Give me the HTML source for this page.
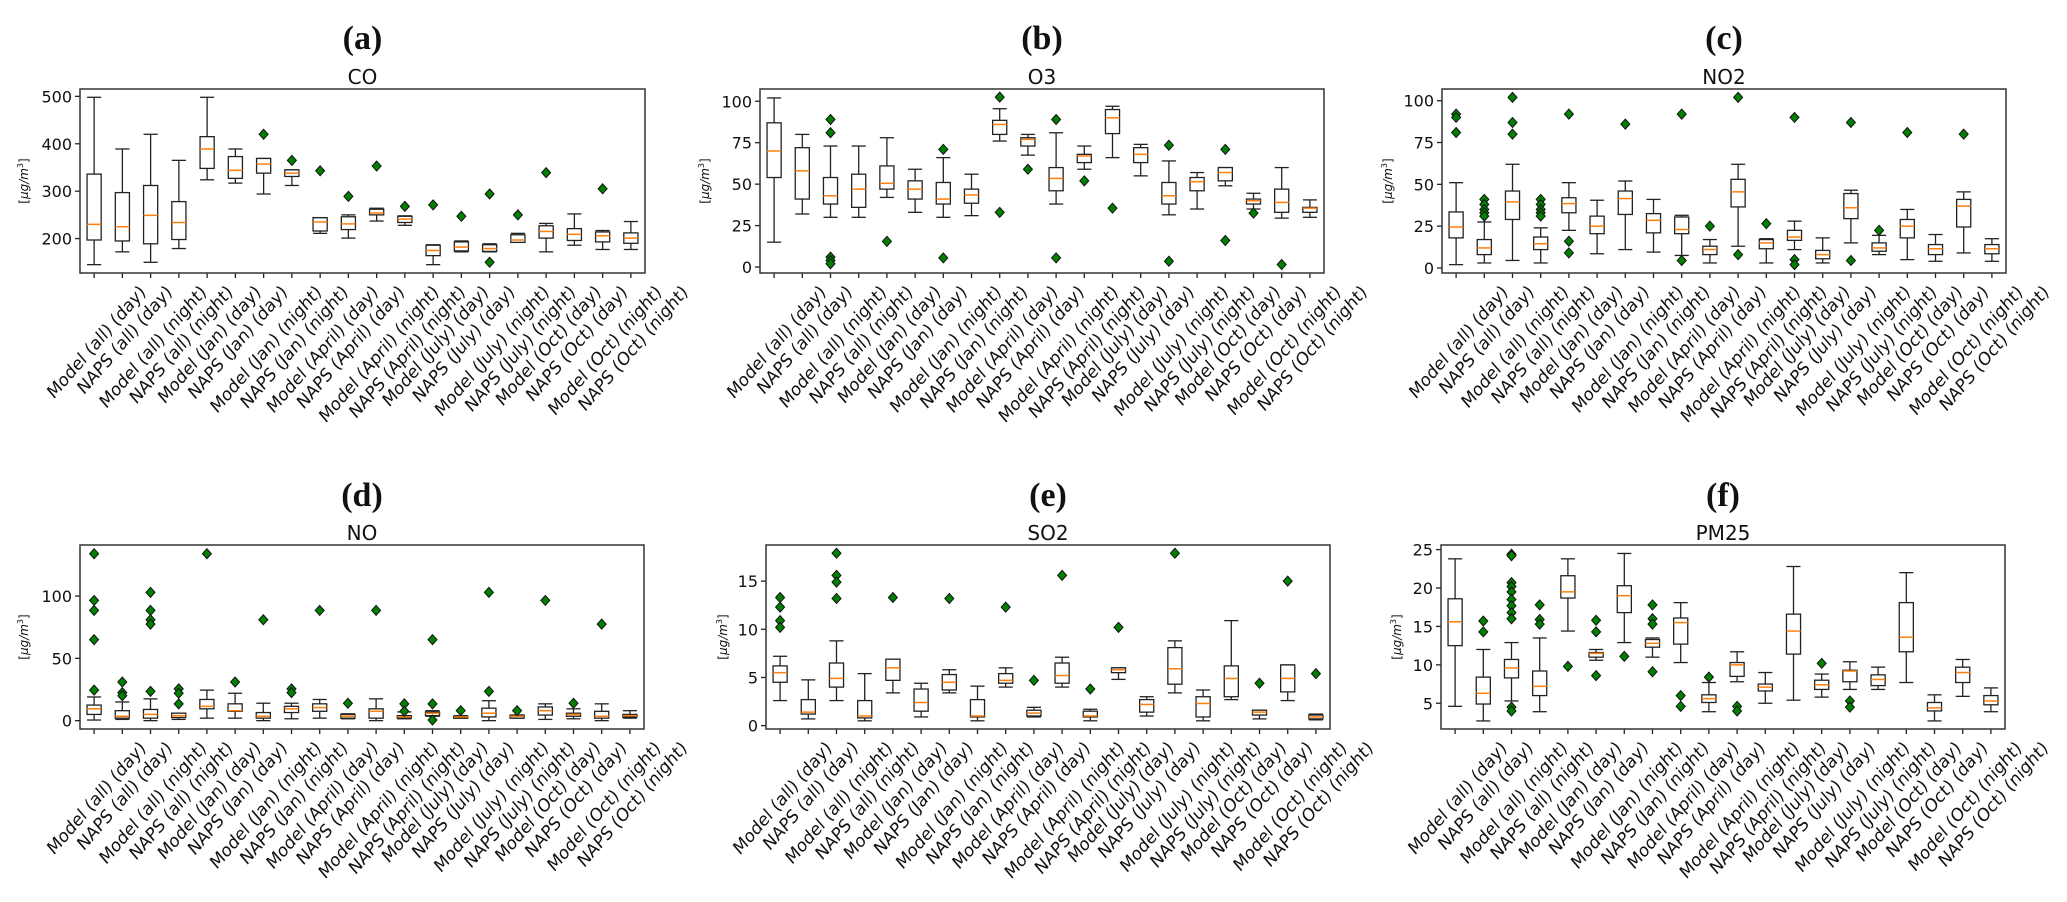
<!DOCTYPE html>
<html><head><meta charset="utf-8"><style>
html,body{margin:0;padding:0;background:#fff;}
svg{display:block;}
text{font-family:"DejaVu Sans","Liberation Sans",sans-serif;fill:#111;}
.ttl{font-family:"Liberation Serif",serif;font-weight:bold;}
</style></head><body>
<svg id="fig" width="2067" height="902" viewBox="0 0 2067 902" xmlns="http://www.w3.org/2000/svg"></svg>
<script>
const categories = ["Model (all) (day)","NAPS (all) (day)","Model (all) (night)","NAPS (all) (night)","Model (Jan) (day)","NAPS (Jan) (day)","Model (Jan) (night)","NAPS (Jan) (night)","Model (April) (day)","NAPS (April) (day)","Model (April) (night)","NAPS (April) (night)","Model (July) (day)","NAPS (July) (day)","Model (July) (night)","NAPS (July) (night)","Model (Oct) (day)","NAPS (Oct) (day)","Model (Oct) (night)","NAPS (Oct) (night)"];

const coLow = [145,172,150,179,324,317,294,312,211,201,237,228,145,172,172,192,172,186,177,177];
const coQ1 = [197,195,189,198,348,327,338,331,216,219,250,234,164,174,173,192,201,196,193,190];
const coMed = [230,225,249,234,389,344,357,338,235,231,254,241,175,182,179,197,215,209,206,201];
const coQ3 = [336,297,312,278,415,373,369,345,244,246,262,247,186,193,187,208,227,221,214,212];
const coHigh = [498,389,420,365,498,389,369,345,244,250,264,248,187,195,189,211,232,252,217,236];
const coOut = [[],[],[],[],[],[],[420],[365],[343],[289],[353],[268],[271],[247],[294,150],[250],[339],[],[305],[]];
const coTicks = [200,300,400,500];

const o3Low = [15,32,30,30,42,33,30,31,76,67.5,38,59,66,55,31.5,35,49,35,29.5,30];
const o3Q1 = [54,41,38,36,47,41,38,38.5,80,73,46,63,80.5,63,38,46,52,38,33,33];
const o3Med = [70,58,43,47,50.5,47,41,43.5,86,77,53.5,67,90,68,43,51.5,57,40,39,35.5];
const o3Q3 = [87,72,54,56,61,52,51,47,88.5,78,60,68,95,72,51,54,60,41,47,36];
const o3High = [102,80,73,73,78,59,66,56,95.5,80,81,73,97,74,64,57,60,44.5,60,40.5];
const o3Out = [[],[],[89,81,6,4,2],[],[15.5],[],[71,5.5],[],[102.5,33],[59],[89,5.5],[52],[35.5],[],[73.5,3.5],[],[71,16],[32.5],[1.5],[]];
const o3Ticks = [0,25,50,75,100];

const no2Low = [2,3,4.5,3,22.5,8.5,11,9.5,7.5,3,13,3,11,3,15,8,5,4,9,4];
const no2Q1 = [18,8,29,11,33,20.5,32,21,20.5,8,36.5,11.5,16.5,5.5,29.5,10,18,8,24.5,8.5];
const no2Med = [24.5,12,39.5,14.5,38.5,25,41.5,28.5,23,11,45.5,15,18.5,8,36,12,25,11.5,37,11.5];
const no2Q3 = [33.5,17,46,18.5,42,31,46,32.5,30.5,13,53,17,22.5,10.5,44.5,15,29,14,41,14];
const no2High = [51,27.5,62,24,51,40.5,52,41,31.5,17,62,17.5,28,18,46.5,19.5,35,20,45.5,17.5];
const no2Out = [[92,90,81],[41,38,35,33,31],[102,87,80],[41,38,35,33,31],[92,16,9],[],[86],[],[92,4.5],[25],[102,8],[26.5],[90,5,2],[],[87,4.5],[22.5],[81],[],[80],[]];
const no2Ticks = [0,25,50,75,100];

const noLow = [0.5,1,0,1,2,2,0,1.5,2,1.5,0,1.5,3.5,2,0,2,1,1.5,0,2];
const noQ1 = [5,2,2,2.5,9.5,7.5,2,6.5,7.5,2,2,2,4,2,3,2,4.5,3.5,2,3];
const noMed = [9.5,3.5,5,4,11.5,8,3.5,9.5,10.5,3.5,7.5,3,6,3,6,3.5,8,5,3.5,4];
const noQ3 = [12.5,8,9,6,17,13.5,6.5,11.5,13.5,5,9.5,4,7,3.5,10,4.5,11,6,7.5,5];
const noHigh = [19,15,17.5,6,24.5,22,14,14,17,5.5,17.5,7,8,4,16,4.5,13.5,9.5,13.5,8];
const noOut = [[134,96.5,88.5,65,24.5],[31,22.5,20],[103,88.5,81,77.5,23.5],[25.5,22,13.5],[134],[31],[81],[25.5,22.5],[88.5],[14],[88.5],[13.5,7.5],[65,13.5,0.5],[8],[103,23.5],[8],[96.5],[14],[77.5],[]];
const noTicks = [0,50,100];

const so2Low = [2.6,0.7,2.6,0.5,3.4,0.9,3.4,0.5,4.0,0.9,4.0,0.5,4.8,1.0,3.4,0.5,2.7,0.7,2.6,0.6];
const so2Q1 = [4.5,1.2,4.0,0.8,4.7,1.5,3.7,0.9,4.4,1.0,4.4,0.9,5.5,1.4,4.3,0.9,3.0,1.1,3.5,0.7];
const so2Med = [5.5,1.4,4.9,1.0,6.0,2.4,4.5,1.0,4.7,1.3,5.2,1.0,5.8,2.2,5.9,2.3,4.9,1.4,4.9,0.9];
const so2Q3 = [6.2,2.7,6.5,2.6,6.9,3.8,5.3,2.7,5.4,1.6,6.5,1.5,6.0,2.7,8.1,3.0,6.2,1.6,6.3,1.1];
const so2High = [7.2,4.75,8.8,5.4,6.9,4.4,5.8,4.1,6.0,1.9,7.1,1.7,6.0,3.0,8.8,3.7,10.9,1.6,6.3,1.2];
const so2Out = [[13.3,12.3,10.9,10.2],[],[17.9,15.6,14.9,13.2],[],[13.3],[],[13.2],[],[12.3],[4.7],[15.6],[3.8],[10.2],[],[17.9],[],[],[4.4],[15.0],[5.4]];
const so2Ticks = [0,5,10,15];

const pmLow = [4.6,2.7,5.3,3.9,14.4,10.6,12.9,11.0,10.3,3.9,7.8,5.0,5.4,5.8,6.8,6.8,7.7,2.7,5.9,3.9];
const pmQ1 = [12.5,4.9,8.3,6.0,18.7,11.0,16.8,12.3,12.7,5.1,8.5,6.6,11.4,6.8,7.8,7.3,11.7,4.0,7.7,4.8];
const pmMed = [15.6,6.3,9.6,7.2,19.5,11.5,19.0,12.8,15.5,5.6,10.0,7.1,14.4,7.4,9.2,8.1,13.6,4.4,9.0,5.3];
const pmQ3 = [18.6,8.4,10.7,9.2,21.6,11.6,20.3,13.3,16.1,6.1,10.3,7.5,16.6,8.0,9.3,8.7,18.1,5.1,9.7,6.0];
const pmHigh = [23.8,12.0,12.9,13.5,23.8,12.0,24.5,13.5,18.1,7.7,11.7,9.0,22.8,8.8,10.4,9.7,22.0,6.1,10.7,7.0];
const pmOut = [[],[15.7,14.3],[24.4,24.2,20.7,20.2,19.5,18.5,17.7,16.8,16,4.5,4],[17.8,15.9,15.3],[9.8],[15.8,14.3,8.6],[11.1],[17.8,16,15.3,9.1],[6,4.6],[8.4],[4.6,4.0],[],[],[10.2],[5.3,4.5],[],[],[],[],[]];
const pmTicks = [5,10,15,20,25];

const NS = "http://www.w3.org/2000/svg";
const svg = document.getElementById('fig');
const K = 1.15;
function el(tag, attrs, parent){
  const e = document.createElementNS(NS, tag);
  for (const k in attrs) e.setAttribute(k, attrs[k]);
  (parent||svg).appendChild(e);
  return e;
}
function txt(parent, s, x, y, size, anchor, rot, cls, k){
  const t = el('text', {'font-size':size, 'text-anchor':anchor||'middle',
    transform:`translate(${x},${y}) scale(1,${k||1}) rotate(${rot||0})`}, parent);
  if (cls) t.setAttribute('class', cls);
  t.textContent = s;
  return t;
}

const panels = [
  {key:'co', letter:'(a)', name:'CO', L:80,R:645,T:89,B:273, y0:127.4,y1:515.5, titleY:37, subY:76, ylabX:24,
   lo:coLow,q1:coQ1,med:coMed,q3:coQ3,hi:coHigh,out:coOut,ticks:coTicks},
  {key:'o3', letter:'(b)', name:'O3', L:760,R:1324,T:89,B:273, y0:-3.6,y1:107.4, titleY:37, subY:76, ylabX:705,
   lo:o3Low,q1:o3Q1,med:o3Med,q3:o3Q3,hi:o3High,out:o3Out,ticks:o3Ticks},
  {key:'no2', letter:'(c)', name:'NO2', L:1442,R:2006,T:89,B:273, y0:-3,y1:107, titleY:37, subY:76, ylabX:1388,
   lo:no2Low,q1:no2Q1,med:no2Med,q3:no2Q3,hi:no2High,out:no2Out,ticks:no2Ticks},
  {key:'no', letter:'(d)', name:'NO', L:80,R:644,T:545,B:729, y0:-6.7,y1:141, titleY:494, subY:532, ylabX:24,
   lo:noLow,q1:noQ1,med:noMed,q3:noQ3,hi:noHigh,out:noOut,ticks:noTicks},
  {key:'so2', letter:'(e)', name:'SO2', L:766,R:1330,T:545,B:729, y0:-0.35,y1:18.75, titleY:494, subY:532, ylabX:723,
   lo:so2Low,q1:so2Q1,med:so2Med,q3:so2Q3,hi:so2High,out:so2Out,ticks:so2Ticks},
  {key:'pm25', letter:'(f)', name:'PM25', L:1441,R:2005,T:545,B:729, y0:1.65,y1:25.6, titleY:494, subY:532, ylabX:1397,
   lo:pmLow,q1:pmQ1,med:pmMed,q3:pmQ3,hi:pmHigh,out:pmOut,ticks:pmTicks}
];

panels.forEach(p => {
  const g = el('g', {});
  
  
  const n = categories.length;
  const xs = i => p.L + (i + 0.5) * (p.R - p.L) / n;
  const ys = v => p.B - (v - p.y0) / (p.y1 - p.y0) * (p.B - p.T);
  const cx = (p.L + p.R) / 2;
  const bw = (p.R - p.L) / n * 0.5;

  const t1 = txt(g, p.letter, cx, p.titleY + 12, 34, 'middle', 0, 'ttl');
  
  
  const t2 = txt(g, p.name, cx, p.subY + 8, 20, 'middle', 0);
  
  

  const yl = el('text', {'font-size':12, 'text-anchor':'middle',
    transform:`translate(${p.ylabX + 4},${(p.T + p.B) / 2}) rotate(-90)`}, g);
  
  
  yl.innerHTML = '[<tspan font-style="italic">μg/m</tspan><tspan font-size="8" dy="-5">3</tspan><tspan dy="5">]</tspan>';

  p.ticks.forEach(v => {
    const y = ys(v);
    const tk = el('line', {x1:p.L - 5, x2:p.L, y1:y, y2:y, stroke:'#222', 'stroke-width':1.3}, g);
    
    
    const tl = txt(g, String(v), p.L - 8, y + 6, 16, 'end', 0);
    
    
  });

  for (let i = 0; i < n; i++) {
    const x = xs(i);
    const bg = el('g', {}, g);
    
    
    const st = {stroke:'#222', 'stroke-width':1.3, fill:'none'};
    el('line', Object.assign({x1:x, x2:x, y1:ys(p.hi[i]), y2:ys(p.q3[i])}, st), bg);
    el('line', Object.assign({x1:x, x2:x, y1:ys(p.q1[i]), y2:ys(p.lo[i])}, st), bg);
    el('line', Object.assign({x1:x - bw / 2, x2:x + bw / 2, y1:ys(p.hi[i]), y2:ys(p.hi[i])}, st), bg);
    el('line', Object.assign({x1:x - bw / 2, x2:x + bw / 2, y1:ys(p.lo[i]), y2:ys(p.lo[i])}, st), bg);
    const rect = el('rect', Object.assign({x:x - bw / 2, y:ys(p.q3[i]), width:bw,
      height:Math.max(0.5, ys(p.q1[i]) - ys(p.q3[i]))}, st), bg);
    rect.setAttribute('fill', '#fff');
    const m = el('line', {x1:x - bw / 2, x2:x + bw / 2, y1:ys(p.med[i]), y2:ys(p.med[i]), stroke:'#ff7f0e', 'stroke-width':1.5}, bg);
    
    
    p.out[i].forEach(v => {
      const y = ys(v);
      const d = el('path', {d:`M${x} ${y - 5}L${x + 4.5} ${y}L${x} ${y + 5}L${x - 4.5} ${y}Z`,
        fill:'#008000', stroke:'#111', 'stroke-width':1}, bg);
      
      
    });
    const xt = el('line', {x1:x, x2:x, y1:p.B, y2:p.B + 5, stroke:'#222', 'stroke-width':1.3}, g);
    
    
    const lab = txt(g, categories[i], 0, 0, 16, 'end', -45, null, K);
    
    
    const L = lab.getComputedTextLength ? lab.getComputedTextLength() : 150;
    lab.setAttribute('transform', `translate(${x + L * 0.3536 + 6},${p.B + 20}) scale(1,${K}) rotate(-45)`);
  }

  const frame = el('rect', {x:p.L, y:p.T, width:p.R - p.L, height:p.B - p.T, fill:'none', stroke:'#333', 'stroke-width':1.5}, g);
  
  
});
</script>
</body></html>
